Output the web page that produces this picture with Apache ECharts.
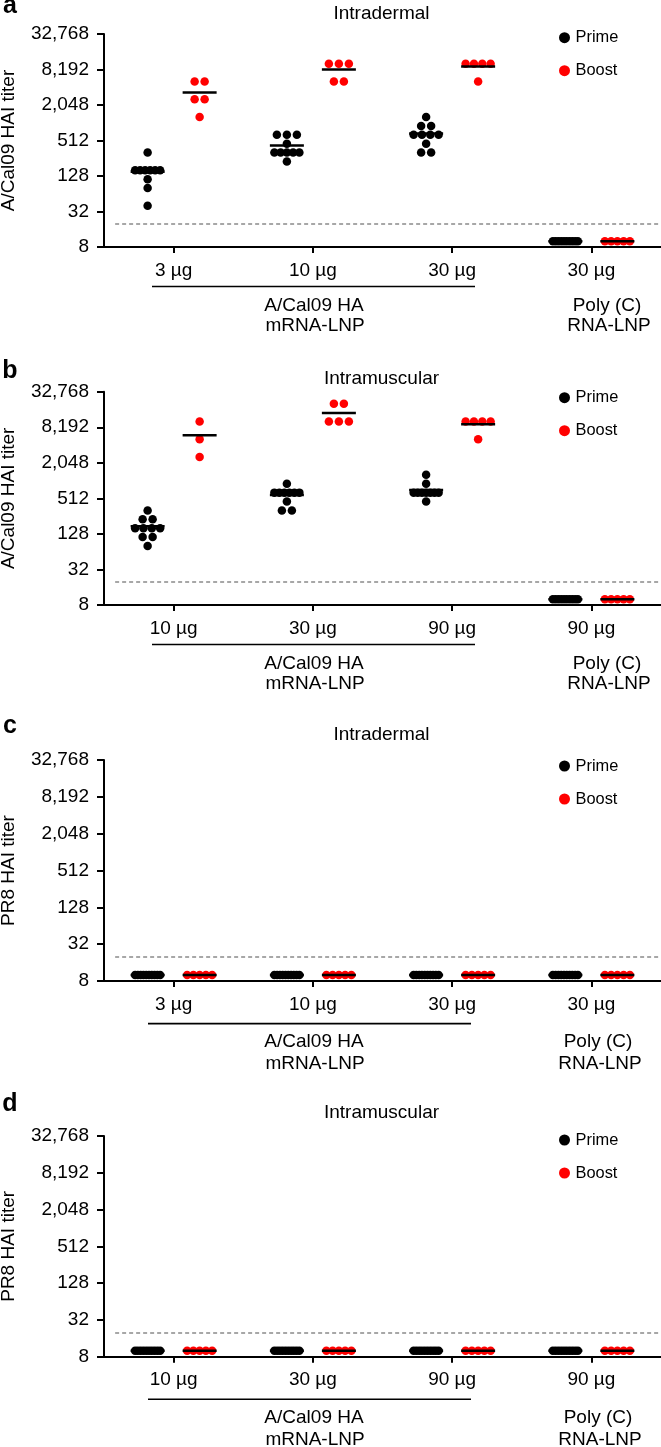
<!DOCTYPE html>
<html><head><meta charset="utf-8">
<script src="https://cdn.jsdelivr.net/npm/echarts@6/dist/echarts.min.js"></script>
<style>html,body{margin:0;padding:0;background:#fff}#c{width:661px;height:1447px}</style>
</head><body><div id="c"></div><script>
// ---------------- data ----------------
const dosesID = ['3 µg', '10 µg', '30 µg', '30 µg'];
const dosesIM = ['10 µg', '30 µg', '90 µg', '90 µg'];
const yTickValues = [8, 32, 128, 512, 2048, 8192, 32768];
const detectionLimit = 20;

// panel a: A/Cal09 HAI titer, intradermal
const aPrime = [
  [320, 160, 160, 160, 160, 160, 160, 113, 80, 40],
  [640, 640, 640, 453, 320, 320, 320, 320, 320, 226],
  [1280, 905, 905, 640, 640, 640, 640, 453, 320, 320],
  [10, 10, 10, 10, 10, 10, 10, 10, 10, 10]
];
const aBoost = [
  [5120, 5120, 2560, 2560, 1280],
  [10240, 10240, 10240, 5120, 5120],
  [10240, 10240, 10240, 10240, 5120],
  [10, 10, 10, 10, 10]
];
// panel b: A/Cal09 HAI titer, intramuscular
const bPrime = [
  [320, 226, 226, 160, 160, 160, 160, 113, 113, 80],
  [905, 640, 640, 640, 640, 640, 640, 453, 320, 320],
  [1280, 905, 640, 640, 640, 640, 640, 640, 640, 453],
  [10, 10, 10, 10, 10, 10, 10, 10, 10, 10]
];
const bBoost = [
  [10240, 5120, 2560],
  [20480, 20480, 10240, 10240, 10240],
  [10240, 10240, 10240, 10240, 5120],
  [10, 10, 10, 10, 10]
];
// panel c: PR8 HAI titer, intradermal
const cPrime = [
  [10, 10, 10, 10, 10, 10, 10, 10, 10, 10],
  [10, 10, 10, 10, 10, 10, 10, 10, 10, 10],
  [10, 10, 10, 10, 10, 10, 10, 10, 10, 10],
  [10, 10, 10, 10, 10, 10, 10, 10, 10, 10]
];
const cBoost = [
  [10, 10, 10, 10, 10],
  [10, 10, 10, 10, 10],
  [10, 10, 10, 10, 10],
  [10, 10, 10, 10, 10]
];
// panel d: PR8 HAI titer, intramuscular
const dPrime = [
  [10, 10, 10, 10, 10, 10, 10, 10, 10, 10],
  [10, 10, 10, 10, 10, 10, 10, 10, 10, 10],
  [10, 10, 10, 10, 10, 10, 10, 10, 10, 10],
  [10, 10, 10, 10, 10, 10, 10, 10, 10, 10]
];
const dBoost = [
  [10, 10, 10, 10, 10],
  [10, 10, 10, 10, 10],
  [10, 10, 10, 10, 10],
  [10, 10, 10, 10, 10]
];

// ---------------- layout ----------------
const FONT = '"Liberation Sans", Arial, Helvetica, sans-serif';
const GRID_LEFT = 104, GRID_W = 557;
const BAND = GRID_W / 4;
const OFFSET = 26 / BAND;      // prime left, boost right of tick
const RED = '#ff0000';
const DOT = 8.5;

const panels = [
  {letter: 'a', letterY: 6, title: 'Intradermal', titleY: 13.7, yName: 'A/Cal09 HAI titer', doses: dosesID,
   prime: aPrime, boost: aBoost, top: 34, height: 213, legendY: 37.7, gaps: [39.5, 58.7, 78.7], bracket: [152, 475], polyX: 607},
  {letter: 'b', letterY: 371, title: 'Intramuscular', titleY: 378.3, yName: 'A/Cal09 HAI titer', doses: dosesIM,
   prime: bPrime, boost: bBoost, top: 391.7, height: 213.3, legendY: 397.7, gaps: [39.5, 58.7, 78.7], bracket: [152, 475], polyX: 607},
  {letter: 'c', letterY: 726, title: 'Intradermal', titleY: 735, yName: 'PR8 HAI titer', doses: dosesID,
   prime: cPrime, boost: cBoost, top: 760, height: 221, legendY: 766, gaps: [42.6, 60.6, 82.6], bracket: [148, 471], polyX: 598},
  {letter: 'd', letterY: 1104, title: 'Intramuscular', titleY: 1112.7, yName: 'PR8 HAI titer', doses: dosesIM,
   prime: dPrime, boost: dBoost, top: 1136, height: 220.7, legendY: 1140, gaps: [42.6, 60.6, 82.6], bracket: [148, 471], polyX: 598}
];

function fmt(v) {
  return String(Math.round(Math.pow(2, v))).replace(/\B(?=(\d{3})+(?!\d))/g, ',');
}
function swarm(values, center) {
  const counts = new Map();
  values.forEach(v => counts.set(v, (counts.get(v) || 0) + 1));
  const pts = [];
  counts.forEach((n, v) => {
    const s = n > 1 ? Math.min(10, 25 / (n - 1)) : 0;
    for (let k = 0; k < n; k++) pts.push([center + (k - (n - 1) / 2) * s / BAND, Math.log2(v)]);
  });
  return pts;
}
function mean(arr) { return arr.reduce((a, b) => a + b, 0) / arr.length; }

const grid = [], xAxis = [], yAxis = [], series = [], legend = [], graphic = [];
const yMin = Math.log2(yTickValues[0]);
const yMax = Math.log2(yTickValues[yTickValues.length - 1]);
const yInt = Math.log2(yTickValues[1] / yTickValues[0]);

panels.forEach((p, i) => {
  grid.push({left: GRID_LEFT, width: GRID_W, top: p.top, height: p.height});
  xAxis.push({
    type: 'category', gridIndex: i, data: p.doses, boundaryGap: true,
    axisLine: {show: true, onZero: false, lineStyle: {color: '#000', width: 2}},
    axisTick: {show: true, alignWithLabel: true, length: 6, lineStyle: {color: '#000', width: 2}},
    axisLabel: {color: '#000', fontSize: 19, fontFamily: FONT, margin: 14, interval: 0},
    splitLine: {show: false}
  });
  xAxis.push({type: 'value', gridIndex: i, min: -0.5, max: 3.5, show: false});
  yAxis.push({
    type: 'value', gridIndex: i, min: yMin, max: yMax, interval: yInt,
    axisLine: {show: true, onZero: false, lineStyle: {color: '#000', width: 2}},
    axisTick: {show: true, length: 7, lineStyle: {color: '#000', width: 2}},
    axisLabel: {color: '#000', fontSize: 19, fontFamily: FONT, margin: 15, formatter: fmt},
    splitLine: {show: false}
  });
  const primePts = [], boostPts = [], primeMeans = [], boostMeans = [];
  p.prime.forEach((g, k) => {
    primePts.push(...swarm(g, k - OFFSET));
    primeMeans.push([k - OFFSET, Math.log2(mean(g))]);
  });
  p.boost.forEach((g, k) => {
    boostPts.push(...swarm(g, k + OFFSET));
    boostMeans.push([k + OFFSET, Math.log2(mean(g))]);
  });
  const xi = 2 * i + 1;
  series.push({
    name: 'Prime', type: 'scatter', xAxisIndex: xi, yAxisIndex: i, data: primePts,
    symbol: 'circle', symbolSize: DOT, itemStyle: {color: '#000', opacity: 1}, z: 3, silent: true,
    markLine: {
      silent: true, symbol: ['none', 'none'], label: {show: false},
      lineStyle: {type: [4, 3], color: '#8a8a8a', width: 1.6},
      data: [[{coord: [-0.42, Math.log2(detectionLimit)]}, {coord: [3.5, Math.log2(detectionLimit)]}]]
    }
  });
  series.push({
    name: 'Boost', type: 'scatter', xAxisIndex: xi, yAxisIndex: i, data: boostPts,
    symbol: 'circle', symbolSize: DOT, itemStyle: {color: RED, opacity: 1}, z: 3, silent: true
  });
  series.push({
    name: 'Prime mean', type: 'scatter', xAxisIndex: xi, yAxisIndex: i, data: primeMeans,
    symbol: 'rect', symbolSize: [34, 2.5], itemStyle: {color: '#000', opacity: 1}, z: 5, silent: true
  });
  series.push({
    name: 'Boost mean', type: 'scatter', xAxisIndex: xi, yAxisIndex: i, data: boostMeans,
    symbol: 'rect', symbolSize: [34, 2.5], itemStyle: {color: '#000', opacity: 1}, z: 5, silent: true
  });
  legend.push({
    data: ['Prime', 'Boost'], orient: 'vertical', left: 559, top: p.legendY - 10,
    itemWidth: 12, itemHeight: 11, itemGap: 13, icon: 'circle', padding: 0, selectedMode: false,
    textStyle: {fontSize: 16.4, color: '#000', lineHeight: 20, fontFamily: FONT}
  });
  const y0 = p.top + p.height;
  const txt = (text, x, y, size, extra) => Object.assign({
    type: 'text', x: x, y: y, silent: true,
    style: {text: text, font: (extra && extra.bold ? 'bold ' : '') + size + 'px ' + FONT, fill: '#000',
            align: 'center', verticalAlign: 'middle', textAlign: 'center', textVerticalAlign: 'middle'}
  }, extra && extra.rot ? {rotation: extra.rot} : {});
  graphic.push(txt(p.letter, 10, p.letterY, 25, {bold: true}));
  graphic.push(txt(p.title, 381.5, p.titleY, 19));
  graphic.push(txt(p.yName, 9, p.top + p.height / 2, 19, {rot: Math.PI / 2}));
  graphic.push({type: 'line', silent: true, shape: {x1: p.bracket[0], y1: y0 + p.gaps[0], x2: p.bracket[1], y2: y0 + p.gaps[0]},
                style: {stroke: '#000', lineWidth: 1.6}});
  graphic.push(txt('A/Cal09 HA', 314, y0 + p.gaps[1], 19));
  graphic.push(txt('mRNA-LNP', 315, y0 + p.gaps[2], 19));
  graphic.push(txt('Poly (C)', p.polyX, y0 + p.gaps[1], 19));
  graphic.push(txt('RNA-LNP', p.polyX + 2, y0 + p.gaps[2], 19));
});

const chart = echarts.init(document.getElementById('c'), null, {renderer: 'canvas'});
chart.setOption({
  animation: false, backgroundColor: '#fff',
  grid, xAxis, yAxis, series, legend, graphic
});
</script></body></html>
